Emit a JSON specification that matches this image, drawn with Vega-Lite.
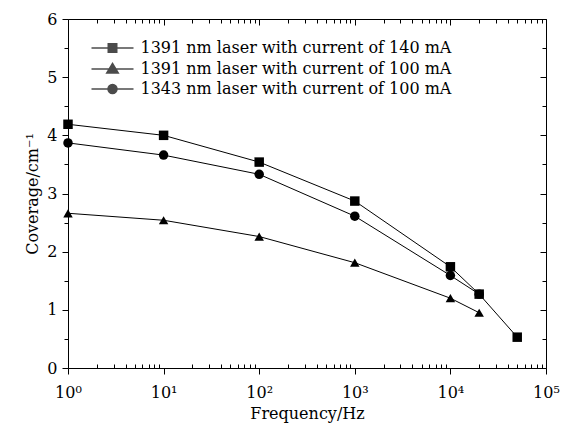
{
  "$schema": "https://vega.github.io/schema/vega-lite/v6.json",
  "autosize": "none",
  "width": 478,
  "height": 349,
  "padding": {"left": 68, "top": 19, "right": 25, "bottom": 60},
  "background": "white",
  "config": {
    "view": {"stroke": "black", "strokeWidth": 1},
    "font": "DejaVu Serif",
    "axis": {
      "labelFont": "DejaVu Serif", "labelFontSize": 16, "labelColor": "black",
      "titleFont": "DejaVu Serif", "titleFontSize": 16, "titleFontWeight": "normal", "titleColor": "black",
      "tickColor": "black", "tickWidth": 1, "domain": false, "grid": false, "labelFlush": false, "labelOverlap": false
    },
    "legend": {
      "labelFont": "DejaVu Serif", "labelFontSize": 16, "labelColor": "black", "labelLimit": 0
    }
  },
  "data": {"values": [
    {"series": "1391 nm laser with current of 140 mA", "freq": 1, "cov": 4.19},
    {"series": "1391 nm laser with current of 140 mA", "freq": 10, "cov": 4.0},
    {"series": "1391 nm laser with current of 140 mA", "freq": 100, "cov": 3.54},
    {"series": "1391 nm laser with current of 140 mA", "freq": 1000, "cov": 2.87},
    {"series": "1391 nm laser with current of 140 mA", "freq": 10000, "cov": 1.74},
    {"series": "1391 nm laser with current of 140 mA", "freq": 20000, "cov": 1.27},
    {"series": "1391 nm laser with current of 140 mA", "freq": 50000, "cov": 0.53},
    {"series": "1391 nm laser with current of 100 mA", "freq": 1, "cov": 2.66},
    {"series": "1391 nm laser with current of 100 mA", "freq": 10, "cov": 2.54},
    {"series": "1391 nm laser with current of 100 mA", "freq": 100, "cov": 2.26},
    {"series": "1391 nm laser with current of 100 mA", "freq": 1000, "cov": 1.81},
    {"series": "1391 nm laser with current of 100 mA", "freq": 10000, "cov": 1.2},
    {"series": "1391 nm laser with current of 100 mA", "freq": 20000, "cov": 0.95},
    {"series": "1343 nm laser with current of 100 mA", "freq": 1, "cov": 3.87},
    {"series": "1343 nm laser with current of 100 mA", "freq": 10, "cov": 3.66},
    {"series": "1343 nm laser with current of 100 mA", "freq": 100, "cov": 3.33},
    {"series": "1343 nm laser with current of 100 mA", "freq": 1000, "cov": 2.61},
    {"series": "1343 nm laser with current of 100 mA", "freq": 10000, "cov": 1.59},
    {"series": "1343 nm laser with current of 100 mA", "freq": 20000, "cov": 1.27}
  ]},
  "resolve": {
    "axis": {"x": "independent", "y": "independent"},
    "scale": {"shape": "independent"},
    "legend": {"shape": "independent"}
  },
  "layer": [
    {
      "mark": {"type": "line", "color": "black", "strokeWidth": 1},
      "encoding": {
        "x": {"field": "freq", "type": "quantitative",
          "scale": {"type": "log", "domain": [1, 100000], "nice": false},
          "axis": {"orient": "bottom",
            "values": [1,2,3,4,5,6,7,8,9,10,20,30,40,50,60,70,80,90,100,200,300,400,500,600,700,800,900,1000,2000,3000,4000,5000,6000,7000,8000,9000,10000,20000,30000,40000,50000,60000,70000,80000,90000,100000],
            "tickSize": {"condition": {"test": "indexof([1,10,100,1000,10000,100000], datum.value) >= 0", "value": 6}, "value": -4},
            "labelPadding": 10,
            "labelExpr": "indexof([1,10,100,1000,10000,100000], datum.value) >= 0 ? '10' + ['⁰','¹','²','³','⁴','⁵'][round(log(datum.value)/LN10)] : ''",
            "title": "Frequency/Hz", "titlePadding": 5}},
        "y": {"field": "cov", "type": "quantitative",
          "scale": {"domain": [0, 6], "nice": false, "zero": true},
          "axis": {"orient": "left",
            "values": [0, 0.5, 1, 1.5, 2, 2.5, 3, 3.5, 4, 4.5, 5, 5.5, 6],
            "tickSize": {"condition": {"test": "datum.value % 1 == 0", "value": 6}, "value": 4},
            "labelPadding": 5,
            "labelExpr": "datum.value % 1 == 0 ? format(datum.value, 'd') : ''",
            "title": "Coverage/cm⁻¹", "titlePadding": 6}},
        "detail": {"field": "series"}
      }
    },
    {
      "mark": {"type": "point", "filled": true, "color": "black", "opacity": 1},
      "encoding": {
        "x": {"field": "freq", "type": "quantitative",
          "axis": {"orient": "top",
            "values": [1,2,3,4,5,6,7,8,9,10,20,30,40,50,60,70,80,90,100,200,300,400,500,600,700,800,900,1000,2000,3000,4000,5000,6000,7000,8000,9000,10000,20000,30000,40000,50000,60000,70000,80000,90000,100000],
            "tickSize": {"condition": {"test": "indexof([1,10,100,1000,10000,100000], datum.value) >= 0", "value": -6}, "value": -4},
            "labels": false, "title": null}},
        "y": {"field": "cov", "type": "quantitative",
          "axis": {"orient": "right",
            "values": [0, 0.5, 1, 1.5, 2, 2.5, 3, 3.5, 4, 4.5, 5, 5.5, 6],
            "tickSize": {"condition": {"test": "datum.value % 1 == 0", "value": -6}, "value": -4},
            "labels": false, "title": null}},
        "shape": {"field": "series", "type": "nominal",
          "scale": {"domain": ["1391 nm laser with current of 140 mA", "1391 nm laser with current of 100 mA", "1343 nm laser with current of 100 mA"],
            "range": ["square", "triangle-up", "circle"]},
          "legend": null},
        "size": {"value": 90}
      }
    },
    {
      "transform": [{"filter": "false"}],
      "mark": {"type": "point", "filled": true, "fill": "black", "stroke": "black", "strokeWidth": 1},
      "encoding": {
        "x": {"field": "freq", "type": "quantitative", "axis": null},
        "y": {"field": "cov", "type": "quantitative", "axis": null},
        "shape": {"field": "series", "type": "nominal",
          "scale": {"domain": ["1391 nm laser with current of 140 mA", "1391 nm laser with current of 100 mA", "1343 nm laser with current of 100 mA"],
            "range": [
              "M-4.2,0H4.2M-0.85,-0.85H0.85V0.85H-0.85Z",
              "M-4.2,0H4.2M0,-1.1L1.15,0.8H-1.15Z",
              "M-4.2,0H4.2M0.9,0A0.9,0.9 0 1,1 -0.9,0A0.9,0.9 0 1,1 0.9,0Z"
            ]},
          "legend": {"orient": "none", "legendX": 22, "legendY": 21, "title": null,
            "symbolSize": 100, "symbolOffset": 14.5, "labelOffset": 20, "rowPadding": 4,
            "encode": {"symbols": {"update": {"fill": {"value": "black"}, "stroke": {"value": "black"}, "strokeWidth": {"value": 1}, "opacity": {"value": 1}, "fillOpacity": {"value": 1}, "strokeOpacity": {"value": 1}}}}}}
      }
    }
  ]
}
